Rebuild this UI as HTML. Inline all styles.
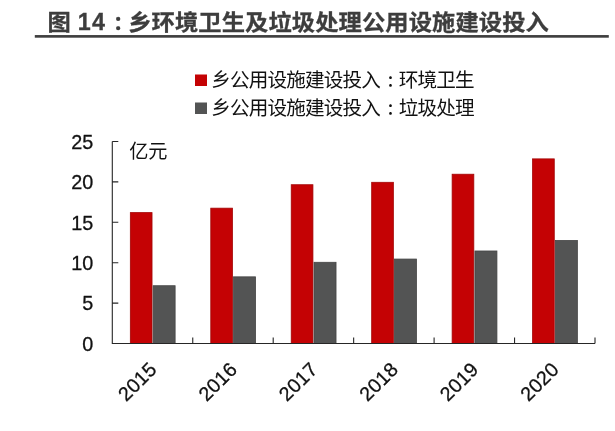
<!DOCTYPE html>
<html lang="zh-CN"><head><meta charset="utf-8"><title>图 14</title>
<style>
html,body{margin:0;padding:0;background:#fff;}
body{width:615px;height:431px;overflow:hidden;position:relative;font-family:"Liberation Sans","Noto Sans CJK SC",sans-serif;}
svg{position:absolute;left:0;top:0;display:block;}
text{font-family:"Liberation Sans","Noto Sans CJK SC",sans-serif;}
.t{font-weight:bold;font-size:23.3px;fill:#3d3d3d;stroke:#3d3d3d;stroke-width:0.3px;}
.jp{font-family:"Liberation Sans","Noto Sans CJK JP",sans-serif;}
.lg{font-size:19.6px;letter-spacing:-0.85px;fill:#111;}
.yl{font-size:19.8px;fill:#111;stroke:#111;stroke-width:0.3px;text-anchor:end;}
.xl{font-size:19.7px;letter-spacing:0.3px;fill:#111;stroke:#111;stroke-width:0.3px;text-anchor:end;}
.u{font-size:19.2px;fill:#111;}
</style></head><body>
<svg width="615" height="431" viewBox="0 0 615 431">
<rect width="615" height="431" fill="#ffffff"/>
<text class="t" transform="translate(0 30.1) scale(1 0.95)"><tspan x="47.6" y="0">图</tspan><tspan x="113.1" y="0.1" font-size="20.8">：</tspan><tspan x="128.2" y="0" letter-spacing="0.08">乡环境卫生及垃圾处理公用设施建设投入</tspan></text>
<text class="t" x="77.7" y="30" letter-spacing="1.4">14</text>
<rect x="34.8" y="35.05" width="574" height="2.65" fill="#3f3f3f"/>
<rect x="195" y="74.5" width="12" height="11.5" fill="#c40204"/>
<text class="lg" y="86.8"><tspan x="211.2">乡公用设施建设投入</tspan><tspan class="jp" lang="ja" x="383.2" font-size="14.5" font-weight="bold">：</tspan><tspan x="398.7">环境卫生</tspan></text>
<rect x="195" y="102.5" width="12" height="11.5" fill="#535454"/>
<text class="lg" y="114.8"><tspan x="211.2">乡公用设施建设投入</tspan><tspan class="jp" lang="ja" x="383.2" font-size="14.5" font-weight="bold">：</tspan><tspan x="398.7">垃圾处理</tspan></text>
<rect x="130.33" y="212.60" width="21.70" height="130.90" fill="#c40204" stroke="#a30606" stroke-width="0.8"/>
<rect x="153.12" y="285.72" width="22.00" height="57.78" fill="#535454" stroke="#454545" stroke-width="0.8"/>
<rect x="210.78" y="208.16" width="21.70" height="135.34" fill="#c40204" stroke="#a30606" stroke-width="0.8"/>
<rect x="233.58" y="276.84" width="22.00" height="66.66" fill="#535454" stroke="#454545" stroke-width="0.8"/>
<rect x="291.23" y="184.72" width="21.70" height="158.78" fill="#c40204" stroke="#a30606" stroke-width="0.8"/>
<rect x="314.03" y="262.29" width="22.00" height="81.21" fill="#535454" stroke="#454545" stroke-width="0.8"/>
<rect x="371.68" y="182.30" width="21.70" height="161.20" fill="#c40204" stroke="#a30606" stroke-width="0.8"/>
<rect x="394.48" y="259.06" width="22.00" height="84.44" fill="#535454" stroke="#454545" stroke-width="0.8"/>
<rect x="452.13" y="174.22" width="21.70" height="169.28" fill="#c40204" stroke="#a30606" stroke-width="0.8"/>
<rect x="474.93" y="250.98" width="22.00" height="92.52" fill="#535454" stroke="#454545" stroke-width="0.8"/>
<rect x="532.57" y="158.87" width="21.70" height="184.63" fill="#c40204" stroke="#a30606" stroke-width="0.8"/>
<rect x="555.38" y="240.48" width="22.00" height="103.02" fill="#535454" stroke="#454545" stroke-width="0.8"/>
<path d="M112.30 141.50V343.50H595.00M112.30 343.50h6M112.30 303.10h6M112.30 262.70h6M112.30 222.30h6M112.30 181.90h6M112.30 141.50h6M192.75 343.50v-6M273.20 343.50v-6M353.65 343.50v-6M434.10 343.50v-6M514.55 343.50v-6M595.00 343.50v-6" fill="none" stroke="#262626" stroke-width="1.1"/>
<text class="yl" x="93.3" y="350.70">0</text>
<text class="yl" x="93.3" y="310.30">5</text>
<text class="yl" x="93.3" y="269.90">10</text>
<text class="yl" x="93.3" y="229.50">15</text>
<text class="yl" x="93.3" y="189.10">20</text>
<text class="yl" x="93.3" y="148.70">25</text>
<text class="u" x="129.2" y="158.2">亿元</text>
<text class="xl" transform="translate(158.03 370.50) rotate(-45)">2015</text>
<text class="xl" transform="translate(238.48 370.50) rotate(-45)">2016</text>
<text class="xl" transform="translate(318.93 370.50) rotate(-45)">2017</text>
<text class="xl" transform="translate(399.38 370.50) rotate(-45)">2018</text>
<text class="xl" transform="translate(479.83 370.50) rotate(-45)">2019</text>
<text class="xl" transform="translate(560.27 370.50) rotate(-45)">2020</text>
</svg>
</body></html>
